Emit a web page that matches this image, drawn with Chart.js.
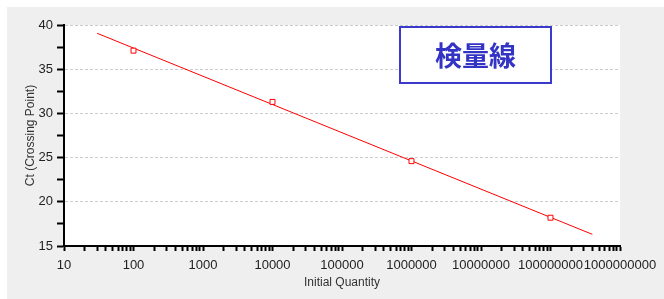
<!DOCTYPE html>
<html>
<head>
<meta charset="utf-8">
<script src="https://cdn.jsdelivr.net/npm/chart.js@4"></script>
<style>
  html, body { margin: 0; padding: 0; background: #ffffff; }
  #wrap { position: absolute; left: 7px; top: 7px; width: 657px; height: 292px; background: #efefef; }
</style>
</head>
<body>
<div id="wrap"><canvas id="chart"></canvas></div>
<script>
// standards
const quantities = [100, 10000, 1000000, 100000000];
const ctValues = [37.1, 31.3, 24.6, 18.2];

// fitted line end points
const fitX = [30, 400000000];
const fitY = [39.06, 16.32];

const xMin = 10;
const xMax = 1000000000;
const yMin = 15;
const yMax = 40;

const chartTitle = "検量線";
const xTitle = "Initial Quantity";
const yTitle = "Ct (Crossing Point)";

const tickFont = { family: "'Liberation Sans', Arial, sans-serif", size: 13 };
const titleFont = { family: "'Liberation Sans', Arial, sans-serif", size: 12 };

function isDecade(v) {
  const l = Math.log10(v);
  return Math.abs(l - Math.round(l)) < 1e-9;
}

const plotBackground = {
  id: "plotBackground",
  beforeDraw(chart) {
    const { ctx, chartArea: a } = chart;
    ctx.save();
    ctx.fillStyle = "#ffffff";
    ctx.fillRect(a.left, a.top, a.right - a.left, a.bottom - a.top);
    ctx.restore();
  },
};

const titleBox = {
  id: "titleBox",
  afterDraw(chart) {
    const { ctx } = chart;
    const x = 393, y = 20, w = 151, h = 56;
    ctx.save();
    ctx.fillStyle = "#ffffff";
    ctx.fillRect(x, y, w, h);
    ctx.strokeStyle = "#3a3acc";
    ctx.lineWidth = 2;
    ctx.strokeRect(x, y, w, h);
    ctx.fillStyle = "#3434c4";
    ctx.font = "bold 27px 'Noto Sans CJK JP', sans-serif";
    ctx.textAlign = "center";
    ctx.textBaseline = "middle";
    ctx.fillText(chartTitle, x + w / 2, y + h / 2 + 1);
    ctx.restore();
  },
};

new Chart(document.getElementById("chart"), {
  type: "scatter",
  data: {
    datasets: [
      {
        type: "line",
        data: fitX.map((x, i) => ({ x, y: fitY[i] })),
        borderColor: "#ff0000",
        borderWidth: 1,
        pointRadius: 0,
        fill: false,
        order: 2,
      },
      {
        data: quantities.map((x, i) => ({ x, y: ctValues[i] })),
        pointStyle: "rect",
        pointRadius: 3.5,
        borderColor: "#ff0000",
        backgroundColor: "#ffffff",
        borderWidth: 1,
        order: 1,
      },
    ],
  },
  options: {
    responsive: true,
    maintainAspectRatio: false,
    animation: false,
    events: [],
    layout: { padding: { top: 18, right: 44, left: 0, bottom: 0 } },
    plugins: { legend: { display: false }, tooltip: { enabled: false } },
    scales: {
      x: {
        type: "logarithmic",
        min: xMin,
        max: xMax,
        afterFit: (s) => { s.height = 53; },
        afterBuildTicks: (s) => {
          const ticks = [];
          for (let v = xMin; v < xMax; v *= 10) {
            for (let n = 1; n < 10; n++) ticks.push({ value: n * v });
          }
          ticks.push({ value: xMax });
          s.ticks = ticks;
        },
        ticks: {
          autoSkip: false,
          maxRotation: 0,
          minRotation: 0,
          padding: 7,
          color: "#222222",
          font: tickFont,
          callback: (v) => (isDecade(v) ? String(Math.round(v)) : ""),
        },
        grid: {
          drawOnChartArea: false,
          tickLength: 5,
          tickColor: "#000000",
          tickWidth: 2,
        },
        border: { color: "#000000", width: 2 },
        title: {
          display: true,
          text: xTitle,
          color: "#333333",
          font: titleFont,
          padding: { top: 0, bottom: 9 },
        },
      },
      y: {
        min: yMin,
        max: yMax,
        afterFit: (s) => { s.width = 57; },
        ticks: {
          stepSize: 2.5,
          padding: 4,
          color: "#222222",
          font: tickFont,
          callback: (v) => (v % 5 === 0 ? String(v) : ""),
        },
        grid: {
          color: (c) => (c.tick && c.tick.value % 5 === 0 ? "#cccccc" : "rgba(0,0,0,0)"),
          lineWidth: 1,
          tickLength: 7,
          tickColor: "#000000",
          tickWidth: 2,
          tickBorderDash: [],
        },
        border: { color: "#000000", width: 2, dash: [3, 2] },
        title: {
          display: true,
          text: yTitle,
          color: "#333333",
          font: titleFont,
          padding: { top: 16, bottom: 0 },
        },
      },
    },
  },
  plugins: [plotBackground, titleBox],
});
</script>
</body>
</html>
